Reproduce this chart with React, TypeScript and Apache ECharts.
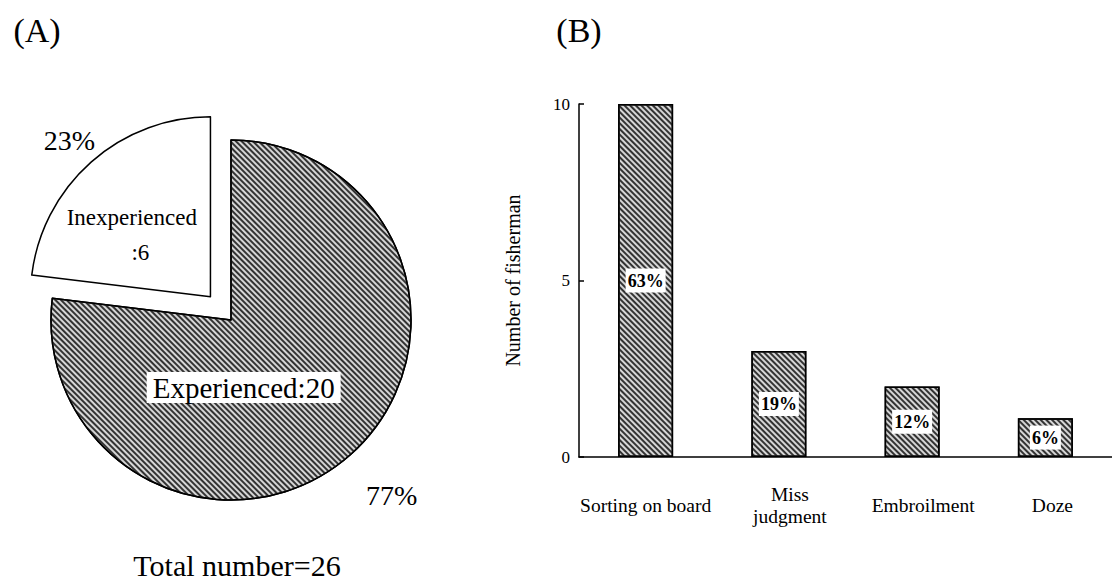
import React, { useEffect, useRef } from "react";
import * as echarts from "echarts";

const FONT = "Liberation Serif, Times New Roman, serif";

const categories = ["Sorting on board", "Miss\njudgment", "Embroilment", "Doze"];
const counts = [10, 3, 2, 1.1];
const shares = ["63%", "19%", "12%", "6%"];
const labelShift = [0, 22, 22, 14];

const pieNames = ["Experienced", "Inexperienced"];
const pieValues = [20, 6];

const yMin = 0;
const yMax = 10;
const yInterval = 5;

const hatch = {
  symbol: "rect",
  symbolSize: 1,
  color: "#333333",
  dashArrayX: [1, 0],
  dashArrayY: [1.3, 1.9],
  rotation: Math.PI / 4,
};

export default function App() {
  const ref = useRef<HTMLDivElement>(null);
  useEffect(() => {
    const chart = echarts.init(ref.current as HTMLDivElement, null, { renderer: "svg" });
    const rich: any = {};
    labelShift.forEach((s, i) => {
      rich["c" + i] = {
        fontFamily: FONT,
        fontSize: 19.5,
        lineHeight: 22,
        color: "#000",
        padding: [0, 0, 0, s],
        align: "center",
      };
    });
    const textStyle = (size: number) => ({
      fontFamily: FONT,
      fontSize: size,
      fill: "#000",
      align: "center",
      verticalAlign: "middle",
    });
    const option: any = {
      animation: false,
      backgroundColor: "#fff",
      textStyle: { fontFamily: FONT },
      grid: { left: 579, right: -8, top: 104, bottom: 126, containLabel: false },
      xAxis: {
        type: "category",
        data: categories,
        axisLine: { show: true, lineStyle: { color: "#000", width: 1.5 } },
        axisTick: { show: false },
        axisLabel: {
          interval: 0,
          margin: 48,
          verticalAlign: "middle",
          fontFamily: FONT,
          formatter: (v: string, i: number) =>
            v
              .split("\n")
              .map((line) => `{c${i}|${line}}`)
              .join("\n"),
          rich,
        },
      },
      yAxis: {
        type: "value",
        min: yMin,
        max: yMax,
        interval: yInterval,
        name: "Number of fisherman",
        nameLocation: "middle",
        nameGap: 56,
        nameTextStyle: { fontFamily: FONT, fontSize: 20, color: "#000" },
        axisLine: { show: true, lineStyle: { color: "#000", width: 1.5 } },
        axisTick: { show: true, inside: true, length: 5, lineStyle: { color: "#000", width: 1.5 } },
        splitLine: { show: false },
        axisLabel: {
          fontFamily: FONT,
          fontSize: 17,
          color: "#000",
          margin: 9,
          verticalAlign: "middle",
          padding: [10, 0, 0, 0],
        },
      },
      series: [
        {
          type: "bar",
          data: counts,
          barWidth: 55,
          itemStyle: {
            color: "#d6d6d6",
            borderColor: "#000",
            borderWidth: 1.5,
            decal: hatch,
          },
          label: {
            show: true,
            position: "inside",
            formatter: (p: any) => shares[p.dataIndex],
            fontFamily: FONT,
            fontWeight: "bold",
            fontSize: 18,
            color: "#000",
            backgroundColor: "#fff",
            padding: [4, 2, 2, 2],
          },
        },
        {
          type: "pie",
          center: [231, 320],
          radius: 180,
          startAngle: 90,
          clockwise: true,
          selectedMode: "single",
          selectedOffset: 31,
          avoidLabelOverlap: false,
          data: pieNames.map((n, i) => ({
            name: n,
            value: pieValues[i],
            selected: i === 1,
            itemStyle:
              i === 0
                ? { color: "#d6d6d6", borderColor: "#000", borderWidth: 1.5, decal: hatch }
                : { color: "#fff", borderColor: "#000", borderWidth: 1.5, decal: "none" },
            label:
              i === 0
                ? {
                    formatter: "{b}:{c}",
                    fontFamily: FONT,
                    fontSize: 29,
                    color: "#000",
                    backgroundColor: "#fff",
                    padding: [2, 6, 0, 6],
                  }
                : {
                    formatter: "{b}\n   :{c}",
                    fontFamily: FONT,
                    fontSize: 23,
                    color: "#000",
                    lineHeight: 35,
                  },
          })),
          label: {
            show: true,
            position: "inside",
            fontFamily: FONT,
            color: "#000",
          },
          labelLine: { show: false },
          labelLayout: (p: any) =>
            p.dataIndex === 0 ? { dx: -49, dy: -2 } : { dx: -17, dy: 8 },
          emphasis: { disabled: true },
        },
        {
          type: "pie",
          center: [231, 320],
          radius: 180,
          startAngle: 90,
          clockwise: true,
          silent: true,
          selectedMode: false,
          percentPrecision: 0,
          avoidLabelOverlap: false,
          data: pieNames.map((n, i) => ({ name: n, value: pieValues[i] })),
          itemStyle: { color: "rgba(0,0,0,0)", borderWidth: 0, decal: "none" },
          label: {
            show: true,
            position: "inside",
            formatter: "{d}%",
            fontFamily: FONT,
            fontSize: 28,
            color: "#000",
          },
          labelLine: { show: false },
          labelLayout: (p: any) =>
            p.dataIndex === 0 ? { dx: 99, dy: 106 } : { dx: -100, dy: -110 },
          emphasis: { disabled: true },
        },
      ],
      graphic: [
        { type: "text", x: 37, y: 30, style: { text: "(A)", ...textStyle(34) } },
        { type: "text", x: 579, y: 30, style: { text: "(B)", ...textStyle(34) } },
        { type: "text", x: 237, y: 565, style: { text: "Total number=26", ...textStyle(30) } },
      ],
    };
    chart.setOption(option);
    return () => chart.dispose();
  }, []);
  return (
    <div
      ref={ref}
      style={{ position: "absolute", left: 0, top: 0, width: 1112, height: 583 }}
    />
  );
}
